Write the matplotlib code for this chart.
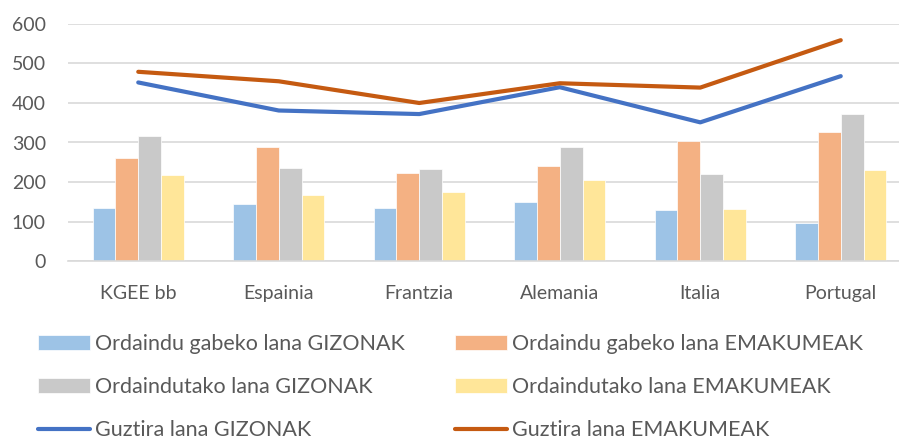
import matplotlib.pyplot as plt
import numpy as np

categories = ['KGEE bb', 'Espainia', 'Frantzia', 'Alemania', 'Italia', 'Portugal']
unpaid_men = [135, 144, 134, 150, 130, 96]
unpaid_women = [261, 288, 223, 241, 305, 327]
paid_men = [316, 235, 233, 288, 220, 371]
paid_women = [217, 166, 174, 205, 132, 230]
total_men = [452, 381, 372, 440, 351, 468]
total_women = [479, 455, 400, 450, 439, 559]

plt.rcParams['font.family'] = ['Lato', 'DejaVu Sans']

fig = plt.figure(figsize=(8.99, 4.38), dpi=100)
ax = fig.add_axes([68 / 899, 1 - 261 / 438, 843 / 899, 237 / 438])

x = np.arange(len(categories))
w = 0.162
bar_series = [
    (unpaid_men, '#9DC3E6', 'Ordaindu gabeko lana GIZONAK'),
    (unpaid_women, '#F4B183', 'Ordaindu gabeko lana EMAKUMEAK'),
    (paid_men, '#C9C9C9', 'Ordaindutako lana GIZONAK'),
    (paid_women, '#FFE699', 'Ordaindutako lana EMAKUMEAK'),
]
handles = []
for i, (vals, col, lab) in enumerate(bar_series):
    h = ax.bar(x + (i - 1.5) * w, vals, w, color=col, label=lab, zorder=2,
               edgecolor='white', linewidth=0.5)
    handles.append(h)

l1, = ax.plot(x, total_men, color='#4472C4', lw=3, solid_capstyle='round',
              label='Guztira lana GIZONAK', zorder=3)
l2, = ax.plot(x, total_women, color='#C55A11', lw=3, solid_capstyle='round',
              label='Guztira lana EMAKUMEAK', zorder=3)

ax.set_xlim(-0.5, len(categories) - 0.5)
ax.set_ylim(0, 600)
ax.set_yticks(range(0, 601, 100))
ax.set_xticks(x)
ax.set_xticklabels(categories)
ax.yaxis.grid(True, color='#D9D9D9', linewidth=1.2, zorder=0)
ax.set_axisbelow(True)
for s in ['top', 'right', 'left']:
    ax.spines[s].set_visible(False)
ax.spines['bottom'].set_color('#D9D9D9')
ax.spines['bottom'].set_linewidth(1.2)
ax.tick_params(length=0, labelsize=14, colors='#595959')
ax.tick_params(axis='y', pad=16)
ax.tick_params(axis='x', pad=17)

# two legend columns, placed separately
legend_kw = dict(loc='upper left', frameon=False, fontsize=15.5,
                 labelcolor='#595959', handlelength=2.4, handletextpad=0.25,
                 labelspacing=1.08, borderaxespad=0, borderpad=0)
left = [handles[0], handles[2], l1]
right = [handles[1], handles[3], l2]
fig.legend(left, [h.get_label() for h in left],
           bbox_to_anchor=(38 / 899, 1 - 334 / 438), **legend_kw)
fig.legend(right, [h.get_label() for h in right],
           bbox_to_anchor=(455 / 899, 1 - 334 / 438), **legend_kw)

fig.savefig('out.png', dpi=100)
